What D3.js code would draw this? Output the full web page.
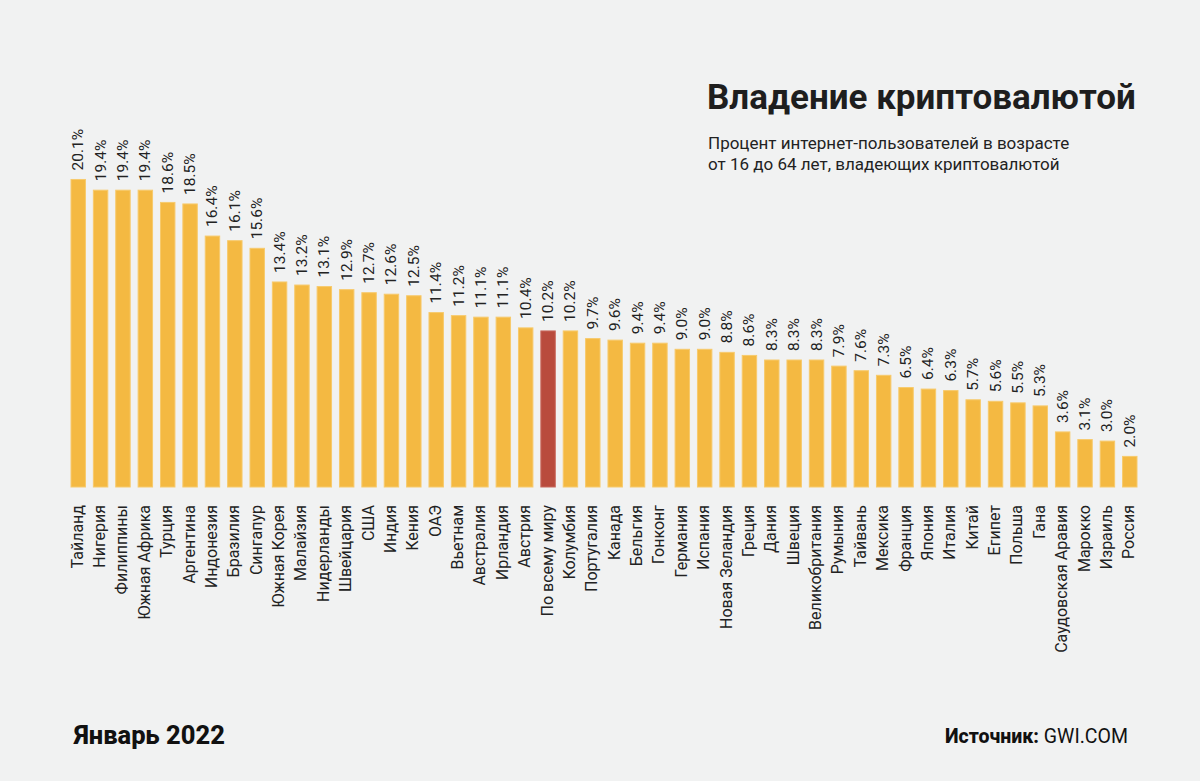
<!DOCTYPE html>
<html>
<head>
<meta charset="utf-8">
<script src="https://cdn.jsdelivr.net/npm/d3@7"></script>
<style>
  html, body { margin: 0; padding: 0; background: #f1f2f2; }
  svg { display: block; }
  text { font-family: Roboto, "Noto Sans", sans-serif; }
</style>
</head>
<body>
<svg id="chart" width="1200" height="781"></svg>
<script>
const countries = ["Тайланд","Нигерия","Филиппины","Южная Африка","Турция","Аргентина","Индонезия","Бразилия","Сингапур","Южная Корея","Малайзия","Нидерланды","Швейцария","США","Индия","Кения","ОАЭ","Вьетнам","Австралия","Ирландия","Австрия","По всему миру","Колумбия","Португалия","Канада","Бельгия","Гонконг","Германия","Испания","Новая Зеландия","Греция","Дания","Швеция","Великобритания","Румыния","Тайвань","Мексика","Франция","Япония","Италия","Китай","Египет","Польша","Гана","Саудовская Аравия","Марокко","Израиль","Россия"];
const values = [20.1,19.4,19.4,19.4,18.6,18.5,16.4,16.1,15.6,13.4,13.2,13.1,12.9,12.7,12.6,12.5,11.4,11.2,11.1,11.1,10.4,10.2,10.2,9.7,9.6,9.4,9.4,9.0,9.0,8.8,8.6,8.3,8.3,8.3,7.9,7.6,7.3,6.5,6.4,6.3,5.7,5.6,5.5,5.3,3.6,3.1,3.0,2.0];
const highlight = "По всему миру";
const title = "Владение криптовалютой";
const subtitle = ["Процент интернет-пользователей в возрасте", "от 16 до 64 лет, владеющих криптовалютой"];
const dateLabel = "Январь 2022";
const sourceBold = "Источник:";
const sourceText = " GWI.COM";

const data = countries.map((c, i) => ({ c, v: values[i] }));
const svg = d3.select("#chart");

const x = d3.scaleBand().domain(countries).range([71, 1137]).paddingInner(0.355).paddingOuter(0);
const y = d3.scaleLinear().domain([0, 20]).range([487, 181]);

svg.append("g").selectAll("rect").data(data).join("rect")
  .attr("x", d => x(d.c))
  .attr("y", d => y(d.v))
  .attr("width", x.bandwidth())
  .attr("height", d => y(0) - y(d.v))
  .attr("fill", d => d.c === highlight ? "#b94b3d" : "#f4b942")
  .attr("stroke", d => d.c === highlight ? "#c96a5e" : "#f7ca6c")
  .attr("stroke-width", 1);

svg.append("g").selectAll("text").data(data).join("text")
  .attr("transform", d => `translate(${x(d.c) + x.bandwidth() / 2 + 5},${y(d.v) - 9}) rotate(-90)`)
  .attr("text-anchor", "start")
  .attr("font-size", 15.5)
  .attr("fill", "#222")
  .text(d => d.v.toFixed(1) + "%");

svg.append("g").selectAll("text").data(data).join("text")
  .attr("transform", d => `translate(${x(d.c) + x.bandwidth() / 2 + 4.5},${y(0) + 18}) rotate(-90)`)
  .attr("text-anchor", "end")
  .attr("font-size", 16)
  .attr("fill", "#222")
  .text(d => d.c);

svg.append("text")
  .attr("x", 707).attr("y", 109)
  .attr("font-size", 35).attr("font-weight", 700).attr("fill", "#1e1e1e")
  .text(title);

svg.append("g").selectAll("text").data(subtitle).join("text")
  .attr("x", 708).attr("y", (d, i) => 149 + i * 21)
  .attr("font-size", 17).attr("fill", "#222")
  .text(d => d);

svg.append("text")
  .attr("x", 74).attr("y", 744)
  .attr("font-size", 25.5).attr("font-weight", 800).attr("fill", "#111")
  .text(dateLabel);

const src = svg.append("text")
  .attr("x", 1128).attr("y", 743)
  .attr("text-anchor", "end")
  .attr("font-size", 19.5).attr("fill", "#111");
src.append("tspan").attr("font-weight", 800).text(sourceBold);
src.append("tspan").text(sourceText);
</script>
</body>
</html>
